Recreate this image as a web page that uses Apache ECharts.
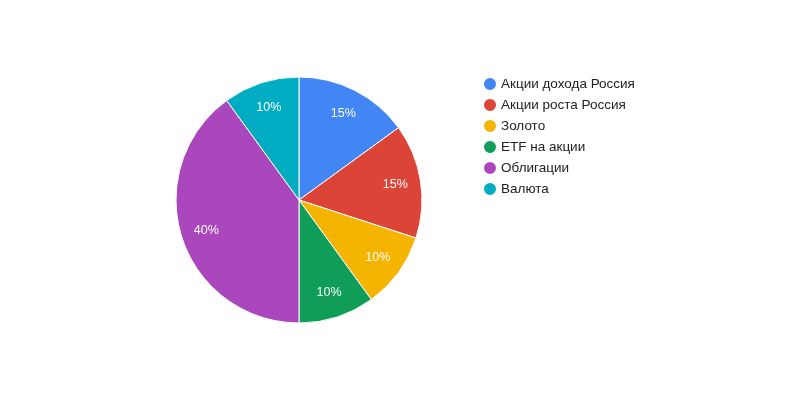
<!DOCTYPE html>
<html>
<head>
<meta charset="utf-8">
<script src="https://cdn.jsdelivr.net/npm/echarts@6/dist/echarts.min.js"></script>
<style>
html, body { margin: 0; padding: 0; background: #fff; }
#chart { width: 800px; height: 400px; }
</style>
</head>
<body>
<div id="chart"></div>
<script>
// data
const categories = ["Акции дохода Россия", "Акции роста Россия", "Золото", "ETF на акции", "Облигации", "Валюта"];
const shares = [15, 15, 10, 10, 40, 10];
const colors = ["#4285f4", "#db4437", "#f4b400", "#0f9d58", "#ab47bc", "#00acc1"];

const chart = echarts.init(document.getElementById("chart"));

const pieData = categories.map((name, i) => ({ name: name, value: shares[i] }));

chart.setOption({
    animation: false,
    color: colors,
    textStyle: { fontFamily: "Liberation Sans, Arial, sans-serif" },
    legend: {
        orient: "vertical",
        left: 477,
        top: 71,
        icon: "circle",
        itemWidth: 14,
        itemHeight: 14,
        itemGap: 5,
        textStyle: { fontSize: 13.5, color: "#222", lineHeight: 14, padding: [0, 0, 0, -1] },
        data: categories
    },
    series: [
        {
            type: "pie",
            center: [299, 200],
            radius: [0, 123],
            startAngle: 90,
            clockwise: true,
            label: { show: false },
            labelLine: { show: false },
            itemStyle: { borderColor: "#fff", borderWidth: 1 },
            emphasis: { disabled: true },
            data: pieData
        },
        {
            // transparent ring only used to place the percentage labels further out
            type: "pie",
            center: [299, 200],
            radius: [66, 123],
            startAngle: 90,
            clockwise: true,
            silent: true,
            legendHoverLink: false,
            itemStyle: { color: "transparent" },
            label: {
                show: true,
                position: "inside",
                formatter: "{d}%",
                color: "#fff",
                fontSize: 12.5
            },
            labelLine: { show: false },
            emphasis: { disabled: true },
            data: pieData
        }
    ]
});
</script>
</body>
</html>
